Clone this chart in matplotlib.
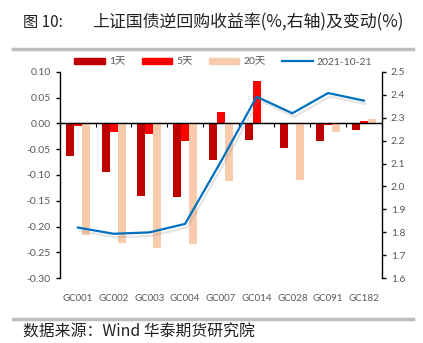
import matplotlib
matplotlib.use("Agg")
import matplotlib.pyplot as plt
import matplotlib.patheffects as pe
import matplotlib.ticker as ticker
from matplotlib.lines import Line2D
import numpy as np

plt.rcParams["font.family"] = ["Lato", "Noto Sans CJK SC", "DejaVu Sans"]
plt.rcParams["axes.unicode_minus"] = False

categories = ["GC001", "GC002", "GC003", "GC004", "GC007", "GC014", "GC028", "GC091", "GC182"]
chg_1d = [-0.064, -0.094, -0.140, -0.143, -0.071, -0.032, -0.048, -0.034, -0.012]
chg_5d = [-0.006, -0.017, -0.020, -0.034, 0.021, 0.082, -0.001, -0.004, 0.005]
chg_20d = [-0.217, -0.231, -0.242, -0.233, -0.111, -0.002, -0.110, -0.016, 0.008]
rate_latest = [1.821, 1.794, 1.800, 1.837, 2.108, 2.391, 2.319, 2.407, 2.374]
series_labels = ["1天", "5天", "20天", "2021-10-21"]

c_1d = "#C00000"
c_5d = "#FF0000"
c_20d = "#F8CBAD"
c_line = "#0070C0"
gray = "#595959"
cjk = ["Noto Sans CJK SC", "DejaVu Sans"]

fig = plt.figure(figsize=(4.23, 3.43), dpi=100)
ax = fig.add_axes([0.1418, 0.1886, 0.7606, 0.6024])
ax2 = ax.twinx()

x = np.arange(len(categories))
w = 0.225
ax.bar(x - w, chg_1d, w, color=c_1d, zorder=2)
ax.bar(x, chg_5d, w, color=c_5d, zorder=2)
ax.bar(x + w, chg_20d, w, color=c_20d, zorder=2)
ax.axhline(0, color="black", linewidth=1.0, zorder=3)

ax.set_xlim(-0.5, len(categories) - 0.5)
ax.set_ylim(-0.30, 0.10)
ax.yaxis.set_major_locator(ticker.MultipleLocator(0.05))
ax.yaxis.set_major_formatter(ticker.FormatStrFormatter("%.2f"))
ax.set_xticks(x)
ax.set_xticklabels(categories)
ax.tick_params(axis="x", length=0, labelsize=7, labelcolor=gray, pad=11)
ax.tick_params(axis="y", length=3, width=1, labelsize=7.5, labelcolor=gray, color="black")

# tick marks on the zero line, between categories
sec = ax.secondary_xaxis(0.75)
sec.set_xticks(np.arange(len(categories) + 1) - 0.5)
sec.set_xticklabels([])
sec.tick_params(axis="x", direction="in", length=3, width=0.8, color="black")
sec.spines["bottom"].set_visible(False)

ax2.plot(x, rate_latest, color=c_line, linewidth=1.6, zorder=5,
         path_effects=[pe.SimpleLineShadow(offset=(1.5, -2.5), shadow_color="gray", alpha=0.2),
                       pe.Normal()])
ax2.set_ylim(1.6, 2.5)
ax2.yaxis.set_major_locator(ticker.MultipleLocator(0.1))
ax2.yaxis.set_major_formatter(ticker.FormatStrFormatter("%.1f"))
ax2.tick_params(axis="y", length=3, width=1, labelsize=7.5, labelcolor=gray, color="black")

for a in (ax, ax2):
    a.spines["top"].set_visible(False)
    a.spines["bottom"].set_visible(False)
    a.spines["left"].set_linewidth(1)
    a.spines["right"].set_linewidth(1)
ax.spines["right"].set_visible(False)
ax2.spines["left"].set_visible(False)

handles = [
    plt.Rectangle((0, 0), 1, 1, color=c_1d),
    plt.Rectangle((0, 0), 1, 1, color=c_5d),
    plt.Rectangle((0, 0), 1, 1, color=c_20d),
    Line2D([0], [0], color=c_line, linewidth=1.6),
]
leg = fig.legend(handles, series_labels, loc="center", bbox_to_anchor=(0.528, 0.819),
                 ncol=4, frameon=False, fontsize=7.5, handlelength=2.9, handleheight=0.45,
                 columnspacing=1.6, handletextpad=0.4)
for t in leg.get_texts():
    t.set_color(gray)

# title and source
fig.text(23 / 423, 1 - 22 / 343, "图 10:", fontsize=11, color="#222222", va="center", family=cjk)
fig.text(92 / 423, 1 - 22 / 343, "上证国债逆回购收益率(%,右轴)及变动(%)", fontsize=12.2,
         color="#222222", va="center", family=cjk)
fig.text(23 / 423, 1 - 332 / 343, "数据来源：Wind 华泰期货研究院", fontsize=11.4,
         color="#222222", va="center", family=cjk)

fig.add_artist(Line2D([13 / 423, 413 / 423], [1 - 49 / 343] * 2, color="#BFBFBF", linewidth=2.5))
fig.add_artist(Line2D([13 / 423, 413 / 423], [1 - 319 / 343] * 2, color="#BFBFBF", linewidth=2.5))

fig.savefig("out.png", dpi=100)
